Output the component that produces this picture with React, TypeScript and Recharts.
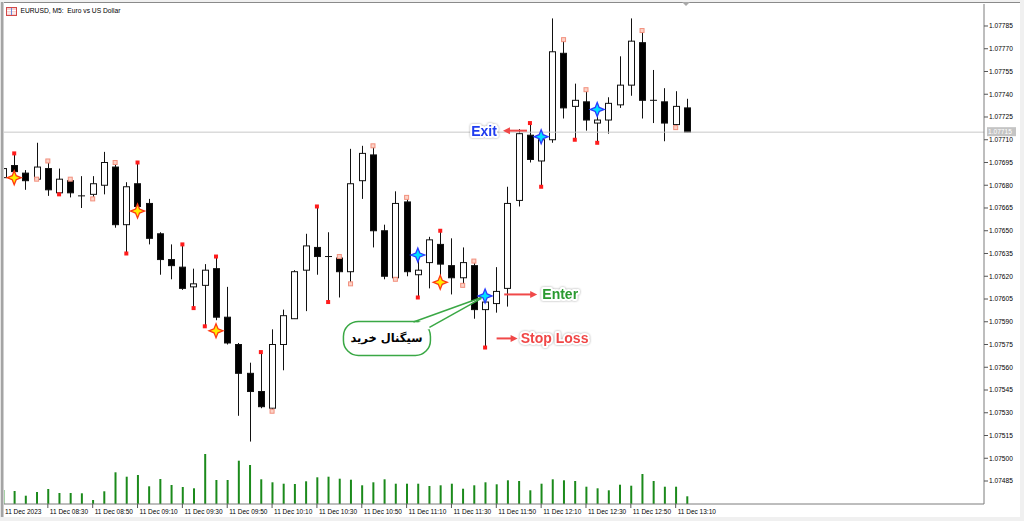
import React from "react";
import { ComposedChart, Bar, Scatter, XAxis, YAxis, ReferenceLine, ReferenceDot } from "recharts";

// EURUSD M5, 11 Dec 2023
const timeLabels = [
  "11 Dec 2023", "11 Dec 08:30", "11 Dec 08:50", "11 Dec 09:10", "11 Dec 09:30", "11 Dec 09:50",
  "11 Dec 10:10", "11 Dec 10:30", "11 Dec 10:50", "11 Dec 11:10", "11 Dec 11:30", "11 Dec 11:50",
  "11 Dec 12:10", "11 Dec 12:30", "11 Dec 12:50", "11 Dec 13:10",
];
const timeTickIdx = [0, 4, 8, 12, 16, 20, 24, 28, 32, 36, 40, 44, 48, 52, 56, 60];

const opens = [
  1.07685, 1.07693, 1.07688, 1.07684, 1.07691, 1.07675, 1.07683, 1.07673, 1.07674, 1.0768,
  1.07692, 1.07654, 1.07681, 1.07668, 1.07648, 1.07631, 1.07626, 1.07613, 1.07614, 1.07625,
  1.07593, 1.07575, 1.07556, 1.07544, 1.07533, 1.07575, 1.07592, 1.07624, 1.07639, 1.07633,
  1.07632, 1.07623, 1.07683, 1.077, 1.0765, 1.07619, 1.07669, 1.07621, 1.07629, 1.07641,
  1.07627, 1.07619, 1.07627, 1.07598, 1.07602, 1.07612, 1.0767, 1.07713, 1.07696, 1.0771,
  1.07767, 1.07732, 1.07735, 1.07721, 1.07723, 1.07733, 1.07746, 1.07774, 1.07736, 1.07735,
  1.0772, 1.07731,
];
const highs = [
  1.07692, 1.07701, 1.0769, 1.07708, 1.07696, 1.07691, 1.07684, 1.07686, 1.07686, 1.07702,
  1.07695, 1.07682, 1.07695, 1.07671, 1.07649, 1.07641, 1.07641, 1.07625, 1.07628, 1.07633,
  1.07613, 1.07576, 1.07563, 1.0757, 1.07585, 1.07598, 1.07624, 1.07648, 1.07666, 1.07649,
  1.07633, 1.07704, 1.07706, 1.07706, 1.07654, 1.07676, 1.07672, 1.07634, 1.07646, 1.0765,
  1.07645, 1.07639, 1.0763, 1.07607, 1.07626, 1.07679, 1.07717, 1.07721, 1.07712, 1.0779,
  1.07776, 1.07747, 1.07743, 1.0773, 1.07738, 1.07765, 1.0779, 1.07782, 1.07756, 1.07744,
  1.07742, 1.07737,
];
const lows = [
  1.07683, 1.07686, 1.07677, 1.07684, 1.07673, 1.07674, 1.07672, 1.07665, 1.07671, 1.07674,
  1.07652, 1.07635, 1.07662, 1.07641, 1.07621, 1.07618, 1.07611, 1.07599, 1.07587, 1.07591,
  1.07575, 1.07528, 1.07511, 1.07533, 1.07531, 1.07558, 1.07592, 1.07597, 1.07621, 1.07603,
  1.07606, 1.07615, 1.07671, 1.07639, 1.07618, 1.07618, 1.0762, 1.07606, 1.07612, 1.07616,
  1.07608, 1.07614, 1.07592, 1.07573, 1.07596, 1.076, 1.07666, 1.07695, 1.07679, 1.07708,
  1.07724, 1.0771, 1.07716, 1.07708, 1.07714, 1.07731, 1.07739, 1.07724, 1.07721, 1.07709,
  1.07718, 1.07715,
];
const closes = [
  1.07691, 1.07689, 1.07683, 1.07692, 1.07677, 1.07684, 1.07675, 1.07673, 1.07681, 1.07695,
  1.07654, 1.07679, 1.07666, 1.07645, 1.07631, 1.07627, 1.07612, 1.07615, 1.07624, 1.07593,
  1.07576, 1.07556, 1.07544, 1.07534, 1.07575, 1.07594, 1.07623, 1.0764, 1.07633, 1.07633,
  1.07623, 1.07681, 1.07701, 1.0765, 1.0762, 1.07668, 1.07623, 1.07624, 1.07644, 1.07628,
  1.07619, 1.07629, 1.07598, 1.07603, 1.0761, 1.07668, 1.07714, 1.07697, 1.0771, 1.07768,
  1.07731, 1.07736, 1.07723, 1.07723, 1.07734, 1.07746, 1.07775, 1.07736, 1.07736, 1.07721,
  1.07732, 1.07715,
];
const volumes = [
  140, 130, 83, 120, 150, 110, 110, 107, 40, 127,
  317, 273, 290, 177, 250, 190, 170, 157, 500, 240,
  240, 433, 390, 247, 217, 203, 200, 227, 267, 273,
  253, 243, 187, 217, 247, 203, 203, 203, 180, 187,
  203, 153, 187, 217, 197, 237, 230, 137, 203, 247,
  237, 230, 173, 157, 137, 193, 183, 300, 230, 173,
  173, 77,
];
const priceTicks = [
  1.07485, 1.075, 1.07515, 1.0753, 1.07545, 1.0756, 1.07575, 1.0759, 1.07605, 1.0762, 1.07635,
  1.0765, 1.07665, 1.0768, 1.07695, 1.0771, 1.07725, 1.0774, 1.07755, 1.0777, 1.07785,
];

// indicator marks
const redHighIdx = [1, 12, 16, 19, 23, 28, 39, 47];
const redLowIdx = [5, 11, 17, 18, 29, 37, 43, 48, 51, 53];
const pinkHighIdx = [4, 6, 10, 30, 33, 36, 42, 50, 52, 57];
const pinkLowIdx = [3, 8, 24, 31, 35, 41, 60];
const sellStars = [
  { i: 1, p: 1.07685 }, { i: 12, p: 1.07663 }, { i: 19, p: 1.07584 }, { i: 39, p: 1.07616 },
];
const buyStars = [
  { i: 37, p: 1.07634 }, { i: 43, p: 1.07607 }, { i: 48, p: 1.07712 }, { i: 53, p: 1.0773 },
];

const candles = opens.map((open, i) => ({
  i, open, high: highs[i], low: lows[i], close: closes[i], vol: volumes[i],
}));

const redDots = [
  ...redHighIdx.map((i) => ({ i, p: highs[i] })),
  ...redLowIdx.map((i) => ({ i, p: lows[i] })),
];
const pinkDots = [
  ...pinkHighIdx.map((i) => ({ i, p: highs[i] })),
  ...pinkLowIdx.map((i) => ({ i, p: lows[i] })),
];

const X_DOMAIN = [0, 87.5];
const Y_DOMAIN = [1.0746984, 1.077995];
const FONT = "'Liberation Sans', Arial, sans-serif";

function Candle(props: any) {
  const { x, y, width, height, payload } = props;
  const { open, high, low, close } = payload;
  const k = height / (high - low);
  const yO = y + (high - open) * k;
  const yC = y + (high - close) * k;
  const top = Math.min(yO, yC);
  const bot = Math.max(yO, yC);
  const cx = Math.round(x + width / 2) + 0.5;
  const left = cx - 3.5;
  return (
    <g>
      <line x1={cx} x2={cx} y1={y} y2={y + height} stroke="#111" />
      {bot - top < 1 ? (
        <line x1={left} x2={left + 7} y1={top} y2={top} stroke="#111" />
      ) : (
        <rect x={left + 0.5} y={top} width={6} height={bot - top}
          fill={close > open ? "#fff" : "#000"} stroke="#111" />
      )}
    </g>
  );
}

const RedDot = (p: any) => <rect x={p.cx - 2} y={p.cy - 2} width={4} height={4} fill="#ff1c1c" />;
const PinkDot = (p: any) => (
  <rect x={p.cx - 2} y={p.cy - 2} width={4} height={4} fill="#fcd2c6" stroke="#f2907e" strokeWidth={1} />
);

function starPath(cx: number, cy: number, r: number, ri: number) {
  return `M${cx},${cy - r} L${cx + ri},${cy - ri} L${cx + r},${cy} L${cx + ri},${cy + ri} L${cx},${cy + r} L${cx - ri},${cy + ri} L${cx - r},${cy} L${cx - ri},${cy - ri} Z`;
}
const SellStar = (p: any) => (
  <path d={starPath(p.cx, p.cy, 7, 2)} fill="#ffee00" stroke="#ff3a12" strokeWidth={1.3} />
);
const BuyStar = (p: any) => (
  <path d={starPath(p.cx, p.cy, 7, 2)} fill="#00e2ff" stroke="#2a3cff" strokeWidth={1.3} />
);

function Arrow({ x1, x2, y }: { x1: number; x2: number; y: number }) {
  const d = Math.sign(x2 - x1);
  return (
    <g>
      <line x1={x1} x2={x2 - d * 5} y1={y} y2={y} stroke="#f04848" strokeWidth={2} />
      <path d={`M${x2},${y} L${x2 - d * 7},${y - 3.5} L${x2 - d * 7},${y + 3.5} Z`} fill="#f04848" />
    </g>
  );
}

function HaloText({ x, y, color, children }: any) {
  return (
    <text x={x} y={y} textAnchor="middle" dominantBaseline="central" fontSize={14} fontWeight="bold"
      fontFamily={FONT} fill={color} stroke="#fff" strokeWidth={4} strokeLinejoin="round"
      paintOrder="stroke" style={{ filter: "drop-shadow(0px 0px 1.2px rgba(0,0,0,0.35))" }}>
      {children}
    </text>
  );
}

const ExitMark = (p: any) => (
  <g>
    <Arrow x1={p.cx + 43} x2={p.cx + 19} y={p.cy} />
    <HaloText x={p.cx} y={p.cy} color="#1f3cf0">Exit</HaloText>
  </g>
);
const EnterMark = (p: any) => (
  <g>
    <Arrow x1={p.cx - 56} x2={p.cx - 23} y={p.cy} />
    <HaloText x={p.cx} y={p.cy} color="#2a9a30">Enter</HaloText>
  </g>
);
const StopMark = (p: any) => (
  <g>
    <Arrow x1={p.cx - 58} x2={p.cx - 37} y={p.cy} />
    <HaloText x={p.cx} y={p.cy} color="#f04646">Stop Loss</HaloText>
  </g>
);
function Bubble(p: any) {
  const { cx, cy } = p;
  const g = "#3aa845";
  return (
    <g>
      <rect x={cx - 43} y={cy - 17} width={87} height={34} rx={15} fill="#fff" stroke={g} strokeWidth={1.5} />
      <path d={`M${cx + 27},${cy - 14} L${cx + 95},${cy - 41} L${cx + 42},${cy - 9} Z`} fill="#fff" />
      <line x1={cx + 27} y1={cy - 16.5} x2={cx + 95} y2={cy - 41} stroke={g} strokeWidth={1.5} />
      <line x1={cx + 43} y1={cy - 11} x2={cx + 95} y2={cy - 40} stroke={g} strokeWidth={1.5} />
      <text x={cx} y={cy} textAnchor="middle" dominantBaseline="central" fontSize={11.5} fontWeight="bold"
        fontFamily="'DejaVu Sans', sans-serif" fill="#000" direction="rtl">
        سیگنال خرید
      </text>
    </g>
  );
}
const PriceTag = (p: any) => (
  <g>
    <rect x={p.cx + 3} y={p.cy - 5} width={29} height={9} fill="#c4c4c4" />
    <text x={p.cx + 4} y={p.cy + 2.3} fontSize={6.6} fontFamily={FONT} fill="#fff">
      {closes[closes.length - 1].toFixed(5)}
    </text>
  </g>
);

const TimeTick = (p: any) => (
  <text x={p.x + 2} y={p.y + 6} fontSize={6.5} fontFamily={FONT} fill="#000">
    {timeLabels[timeTickIdx.indexOf(p.payload.value)]}
  </text>
);

export default function App() {
  const last = closes[closes.length - 1];
  return (
    <div style={{ position: "absolute", left: 0, top: 0, width: 1024, height: 521, background: "#f0f0f0", overflow: "hidden" }}>
      <div style={{ position: "absolute", left: 2, top: 2, width: 1018, height: 514, background: "#fff", borderTop: "1px solid #8a8a8a" }} />
      <svg width={1024} height={521} style={{ position: "absolute", left: 0, top: 0 }}>
        <polygon points="682,2 690,2 686,6" fill="#a8a8a8" />
        <rect x={6.5} y={7.5} width={10} height={8} fill="#f6d0d0" stroke="#d24848" />
        <line x1={7} x2={16} y1={10.5} y2={10.5} stroke="#fff" />
        <line x1={7} x2={16} y1={13} y2={13} stroke="#fff" />
        <line x1={11.5} x2={11.5} y1={8} y2={15} stroke="#6a8ad8" />
        <text x={20.5} y={13.3} fontSize={6.7} fontFamily={FONT} fill="#000" xmlSpace="preserve">
          EURUSD, M5:  Euro vs US Dollar
        </text>
      </svg>
      <div style={{ position: "absolute", left: 0, top: 0 }}>
        <ComposedChart width={1024} height={521} data={candles} margin={{ top: 4, right: 0, bottom: 0, left: 3 }}>
          <XAxis xAxisId="c" dataKey="i" type="number" domain={X_DOMAIN} allowDataOverflow ticks={timeTickIdx}
            interval={0} height={17} tickSize={4} tickMargin={0} tick={TimeTick}
            axisLine={{ stroke: "#7c7c7c" }} tickLine={{ stroke: "#555" }} />
          <XAxis xAxisId="v" dataKey="i" type="number" domain={X_DOMAIN} allowDataOverflow hide />
          <YAxis yAxisId="p" orientation="right" type="number" domain={Y_DOMAIN} allowDataOverflow
            ticks={priceTicks} interval={0} width={40} tickSize={4} tickMargin={1}
            tickFormatter={(v: number) => v.toFixed(5)}
            tick={{ fontSize: 6.6, fill: "#000", fontFamily: FONT }}
            axisLine={{ stroke: "#7c7c7c" }} tickLine={{ stroke: "#555" }} />
          <YAxis yAxisId="vol" type="number" domain={[0, 5000]} hide />
          <ReferenceLine xAxisId="c" yAxisId="p" y={last} stroke="#c8c8c8" />
          <Bar xAxisId="v" yAxisId="vol" dataKey="vol" barSize={2} fill="#1b8a1b" isAnimationActive={false} />
          <Bar xAxisId="c" yAxisId="p" dataKey={(d: any) => [d.low, d.high]} barSize={7} shape={Candle}
            isAnimationActive={false} />
          <Scatter xAxisId="c" yAxisId="p" data={pinkDots} dataKey="p" shape={PinkDot} isAnimationActive={false} />
          <Scatter xAxisId="c" yAxisId="p" data={redDots} dataKey="p" shape={RedDot} isAnimationActive={false} />
          <Scatter xAxisId="c" yAxisId="p" data={sellStars} dataKey="p" shape={SellStar} isAnimationActive={false} />
          <Scatter xAxisId="c" yAxisId="p" data={buyStars} dataKey="p" shape={BuyStar} isAnimationActive={false} />
          <ReferenceDot xAxisId="c" yAxisId="p" x={X_DOMAIN[1]} y={last} shape={PriceTag} ifOverflow="visible" />
          <ReferenceDot xAxisId="c" yAxisId="p" x={42.9} y={1.07716} shape={ExitMark} ifOverflow="visible" />
          <ReferenceDot xAxisId="c" yAxisId="p" x={49.7} y={1.07608} shape={EnterMark} ifOverflow="visible" />
          <ReferenceDot xAxisId="c" yAxisId="p" x={49.2} y={1.07579} shape={StopMark} ifOverflow="visible" />
          <ReferenceDot xAxisId="c" yAxisId="p" x={34.2} y={1.07579} shape={Bubble} ifOverflow="visible" />
        </ComposedChart>
      </div>
      <div style={{ position: "absolute", left: 0, top: 2, width: 4, height: 515,
        background: "linear-gradient(to right, #e4e4e4 0 1px, #a4a4a4 1px 3px, #d0d0d0 3px 4px)" }} />
    </div>
  );
}
